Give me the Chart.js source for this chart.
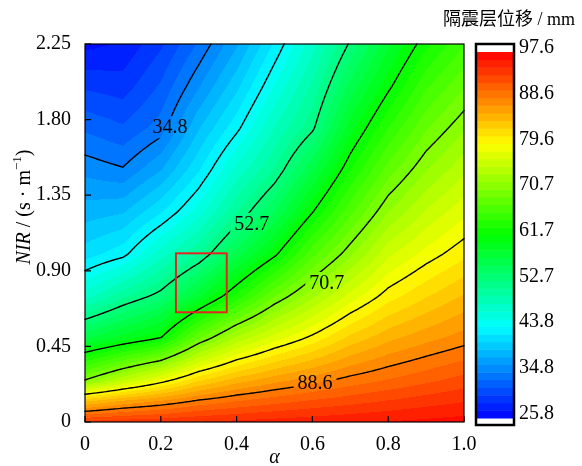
<!DOCTYPE html>
<html lang="zh">
<head>
<meta charset="UTF-8">
<title>隔震层位移等值线图</title>
<script src="https://cdn.jsdelivr.net/npm/chart.js@4.4.1/dist/chart.umd.min.js"></script>
<style>
  body { margin: 0; background: #fff; }
  #wrap { width: 582px; height: 466px; }
</style>
</head>
<body>
<div id="wrap"><canvas id="chart" width="582" height="466"></canvas></div>
<script>
// grid: alpha columns, NIR rows, displacement (mm)
const alphaVals = [0, 0.1, 0.2, 0.3, 0.4, 0.5, 0.6, 0.7, 0.8, 0.9, 1.0];
const nirVals = [0, 0.125, 0.25, 0.5, 0.75, 1.0, 1.25, 1.5, 1.75, 2.0, 2.25];
const dispRows = [
  [93.6, 94.0, 94.3, 94.7, 95.0, 95.3, 95.6, 95.9, 96.2, 96.5, 96.8],
  [83.8, 85.8, 87.2, 88.9, 90.1, 91.0, 91.8, 92.5, 93.2, 93.9, 94.5],
  [70.7, 74.9, 78.5, 82.3, 84.8, 86.5, 87.9, 89.2, 90.2, 91.2, 92.2],
  [57.0, 59.4, 61.7, 69.0, 74.0, 77.4, 80.1, 83.1, 85.2, 86.6, 87.8],
  [47.3, 50.8, 53.5, 58.3, 63.6, 69.1, 73.3, 77.2, 80.4, 82.5, 84.3],
  [41.5, 43.2, 47.5, 51.1, 56.4, 61.2, 67.2, 71.8, 76.3, 78.7, 80.7],
  [38.5, 39.1, 42.1, 46.0, 51.1, 55.7, 61.6, 67.3, 72.2, 75.4, 77.7],
  [35.8, 35.0, 37.7, 42.1, 47.2, 51.3, 57.0, 63.1, 68.4, 72.1, 74.8],
  [33.0, 32.0, 34.0, 39.1, 43.3, 48.3, 52.3, 59.5, 64.7, 69.0, 71.9],
  [30.0, 29.5, 32.0, 36.1, 40.3, 45.3, 50.0, 56.2, 61.2, 65.9, 69.0],
  [26.8, 27.5, 30.0, 33.5, 37.5, 42.5, 47.6, 53.0, 58.3, 62.8, 66.0]
];
const contourLevels = [34.8, 43.8, 52.7, 61.7, 70.7, 79.6, 88.6];
const barTicks = [97.6, 88.6, 79.6, 70.7, 61.7, 52.7, 43.8, 34.8, 25.8];
const xTicks = [0, 0.2, 0.4, 0.6, 0.8, 1.0];
const yTicks = [0, 0.45, 0.90, 1.35, 1.80, 2.25];
const vMin = 25.8, vMax = 97.6, nBands = 48;
// labelled contours: level, alpha, NIR of the label
const lineLabels = [[34.8, 0.224, 1.755], [52.7, 0.44, 1.18], [70.7, 0.638, 0.827], [88.6, 0.607, 0.232]];
// marked region: alpha from/to, NIR from/to
const markBox = [0.24, 0.374, 0.653, 1.004];

const serif = '"Liberation Serif", "Times New Roman", serif';
const jet = [[0, 0, 0, 255], [0.25, 0, 255, 255], [0.5, 0, 255, 0], [0.75, 255, 255, 0], [1, 255, 0, 0]];

function cmap(t) {
  for (let i = 0; i < jet.length - 1; i++) {
    const a = jet[i], b = jet[i + 1];
    if (t <= b[0]) {
      const f = (t - a[0]) / (b[0] - a[0]);
      return [a[1] + (b[1] - a[1]) * f, a[2] + (b[2] - a[2]) * f, a[3] + (b[3] - a[3]) * f];
    }
  }
  return [255, 0, 0];
}
function bandColor(v) {
  let k = Math.floor((v - vMin) / (vMax - vMin) * nBands);
  if (k < 0) k = 0;
  if (k > nBands - 1) k = nBands - 1;
  return cmap((k + 0.5) / nBands);
}
function cell(arr, v) {
  let i = 0;
  while (i < arr.length - 2 && v > arr[i + 1]) i++;
  return i;
}
function field(a, n) {
  const i = cell(alphaVals, a), j = cell(nirVals, n);
  let tx = (a - alphaVals[i]) / (alphaVals[i + 1] - alphaVals[i]);
  let ty = (n - nirVals[j]) / (nirVals[j + 1] - nirVals[j]);
  tx = Math.min(1, Math.max(0, tx)); ty = Math.min(1, Math.max(0, ty));
  const r0 = dispRows[j], r1 = dispRows[j + 1];
  return (r0[i] * (1 - tx) + r0[i + 1] * tx) * (1 - ty) + (r1[i] * (1 - tx) + r1[i + 1] * tx) * ty;
}

const contourPlugin = {
  id: 'contour',
  beforeDatasetsDraw(chart) {
    const { ctx, chartArea: ca, scales: { x, y } } = chart;
    const w = Math.round(ca.right - ca.left), h = Math.round(ca.bottom - ca.top);
    const off = document.createElement('canvas');
    off.width = w; off.height = h;
    const octx = off.getContext('2d');
    const img = octx.createImageData(w, h);
    for (let py = 0; py < h; py++) {
      const n = y.getValueForPixel(ca.top + py + 0.5);
      for (let px = 0; px < w; px++) {
        const a = x.getValueForPixel(ca.left + px + 0.5);
        const c = bandColor(field(a, n));
        const o = (py * w + px) * 4;
        img.data[o] = c[0]; img.data[o + 1] = c[1]; img.data[o + 2] = c[2]; img.data[o + 3] = 255;
      }
    }
    octx.putImageData(img, 0, 0);
    ctx.drawImage(off, ca.left, ca.top);

    // contour lines by marching squares on a resampled grid
    const NA = 160, NN = 160;
    const vals = [];
    for (let j = 0; j <= NN; j++) {
      const row = [];
      for (let i = 0; i <= NA; i++) row.push(field(i / NA, 2.25 * j / NN));
      vals.push(row);
    }
    ctx.save();
    ctx.strokeStyle = '#000';
    ctx.lineWidth = 1.4;
    ctx.lineCap = 'round';
    ctx.beginPath();
    contourLevels.forEach(L => {
      for (let j = 0; j < NN; j++) {
        for (let i = 0; i < NA; i++) {
          const c = [[i, j], [i + 1, j], [i + 1, j + 1], [i, j + 1]];
          const v = c.map(p => vals[p[1]][p[0]]);
          const pts = [];
          for (let e = 0; e < 4; e++) {
            const v0 = v[e], v1 = v[(e + 1) % 4];
            if ((v0 < L) !== (v1 < L)) {
              const f = (L - v0) / (v1 - v0);
              const p0 = c[e], p1 = c[(e + 1) % 4];
              const ai = (p0[0] + (p1[0] - p0[0]) * f) / NA;
              const nj = 2.25 * (p0[1] + (p1[1] - p0[1]) * f) / NN;
              pts.push([x.getPixelForValue(ai), y.getPixelForValue(nj)]);
            }
          }
          for (let k = 0; k + 1 < pts.length; k += 2) {
            ctx.moveTo(pts[k][0], pts[k][1]);
            ctx.lineTo(pts[k + 1][0], pts[k + 1][1]);
          }
        }
      }
    });
    ctx.stroke();

    // labels: clear the line under the text, then write the level
    ctx.font = '20px ' + serif;
    ctx.textAlign = 'center';
    ctx.textBaseline = 'middle';
    ctx.fillStyle = '#000';
    lineLabels.forEach(([lv, a, n]) => {
      const px = x.getPixelForValue(a), py = y.getPixelForValue(n);
      const tw = ctx.measureText(lv.toFixed(1)).width;
      ctx.save();
      ctx.beginPath();
      ctx.rect(px - tw / 2 - 4, py - 11, tw + 8, 22);
      ctx.clip();
      ctx.drawImage(off, ca.left, ca.top);
      ctx.restore();
      ctx.fillText(lv.toFixed(1), px, py + 1);
    });
    ctx.restore();
  },
  afterDatasetsDraw(chart) {
    const { ctx, chartArea: ca, scales: { x, y } } = chart;
    ctx.save();
    // red marked box
    ctx.strokeStyle = '#e52421';
    ctx.lineWidth = 2;
    const bx0 = x.getPixelForValue(markBox[0]), bx1 = x.getPixelForValue(markBox[1]);
    const by0 = y.getPixelForValue(markBox[2]), by1 = y.getPixelForValue(markBox[3]);
    ctx.strokeRect(bx0, by1, bx1 - bx0, by0 - by1);
    // frame and inner ticks
    ctx.strokeStyle = '#000';
    ctx.lineWidth = 1.2;
    ctx.strokeRect(ca.left, ca.top, ca.right - ca.left, ca.bottom - ca.top);
    ctx.beginPath();
    yTicks.forEach(v => {
      const p = y.getPixelForValue(v);
      ctx.moveTo(ca.left, p); ctx.lineTo(ca.left + 6, p);
    });
    xTicks.forEach(v => {
      const p = x.getPixelForValue(v);
      ctx.moveTo(p, ca.bottom); ctx.lineTo(p, ca.bottom - 6);
    });
    ctx.stroke();

    // y axis title: NIR / (s · m^-1)
    ctx.translate(25, 207);
    ctx.rotate(-Math.PI / 2);
    ctx.fillStyle = '#000';
    ctx.textBaseline = 'middle';
    ctx.textAlign = 'left';
    const parts = [
      ['italic 20px ' + serif, 'NIR', 0],
      ['20px ' + serif, ' / (s · m', 0],
      ['13px ' + serif, '−1', -7],
      ['20px ' + serif, ')', 0]
    ];
    let total = 0;
    parts.forEach(p => { ctx.font = p[0]; total += ctx.measureText(p[1]).width; });
    let cx = -total / 2;
    parts.forEach(p => {
      ctx.font = p[0];
      ctx.fillText(p[1], cx, p[2]);
      cx += ctx.measureText(p[1]).width;
    });
    ctx.restore();
  },
  afterDraw(chart) {
    const { ctx, chartArea: ca } = chart;
    const left = ca.right + 12, wdt = 38, top = ca.top, bottom = ca.bottom + 3;
    const cTop = top + 8, cBot = bottom - 7;
    const yOf = v => cTop + (vMax - v) / (vMax - vMin) * (cBot - cTop);
    ctx.save();
    ctx.fillStyle = '#fff';
    ctx.fillRect(left, top, wdt, bottom - top);
    const step = (vMax - vMin) / nBands;
    for (let k = 0; k < nBands; k++) {
      const c = cmap((k + 0.5) / nBands);
      ctx.fillStyle = `rgb(${Math.round(c[0])},${Math.round(c[1])},${Math.round(c[2])})`;
      const y0 = yOf(vMin + (k + 1) * step), y1 = yOf(vMin + k * step);
      ctx.fillRect(left, y0, wdt, y1 - y0 + 0.5);
    }
    ctx.strokeStyle = '#000';
    ctx.lineWidth = 2.5;
    ctx.strokeRect(left, top, wdt, bottom - top);
    ctx.fillStyle = '#000';
    ctx.font = '20px ' + serif;
    ctx.textAlign = 'left';
    ctx.textBaseline = 'middle';
    barTicks.forEach(v => ctx.fillText(v.toFixed(1), left + wdt + 5, yOf(v) - 4));
    ctx.font = '18px ' + serif + ', "Noto Sans CJK SC"';
    ctx.textAlign = 'right';
    ctx.fillText('隔震层位移 / mm', 575, 20);
    ctx.restore();
  }
};

const tickFont = { family: serif, size: 20 };
new Chart(document.getElementById('chart'), {
  type: 'scatter',
  data: { datasets: [{ data: [] }] },
  options: {
    responsive: false,
    animation: false,
    devicePixelRatio: 1,
    layout: { padding: { top: 44, right: 118, left: 0, bottom: 0 } },
    plugins: { legend: { display: false }, tooltip: { enabled: false } },
    scales: {
      x: {
        type: 'linear', min: 0, max: 1,
        afterBuildTicks: s => { s.ticks = xTicks.map(v => ({ value: v })); },
        afterFit: s => { s.height = 44; },
        grid: { display: false }, border: { display: false },
        ticks: { font: tickFont, color: '#000', padding: 3, maxRotation: 0,
          callback: v => v === 0 ? '0' : v.toFixed(1) },
        title: { display: true, text: 'α', color: '#000', padding: { top: 0, bottom: -2 },
          font: { family: serif, size: 20, style: 'italic', lineHeight: 1 } }
      },
      y: {
        type: 'linear', min: 0, max: 2.25,
        afterBuildTicks: s => { s.ticks = yTicks.map(v => ({ value: v })); },
        afterFit: s => { s.width = 85; },
        grid: { display: false }, border: { display: false },
        ticks: { font: tickFont, color: '#000', padding: 6,
          callback: v => v === 0 ? '0' : v.toFixed(2) }
      }
    }
  },
  plugins: [contourPlugin]
});
</script>
</body>
</html>
